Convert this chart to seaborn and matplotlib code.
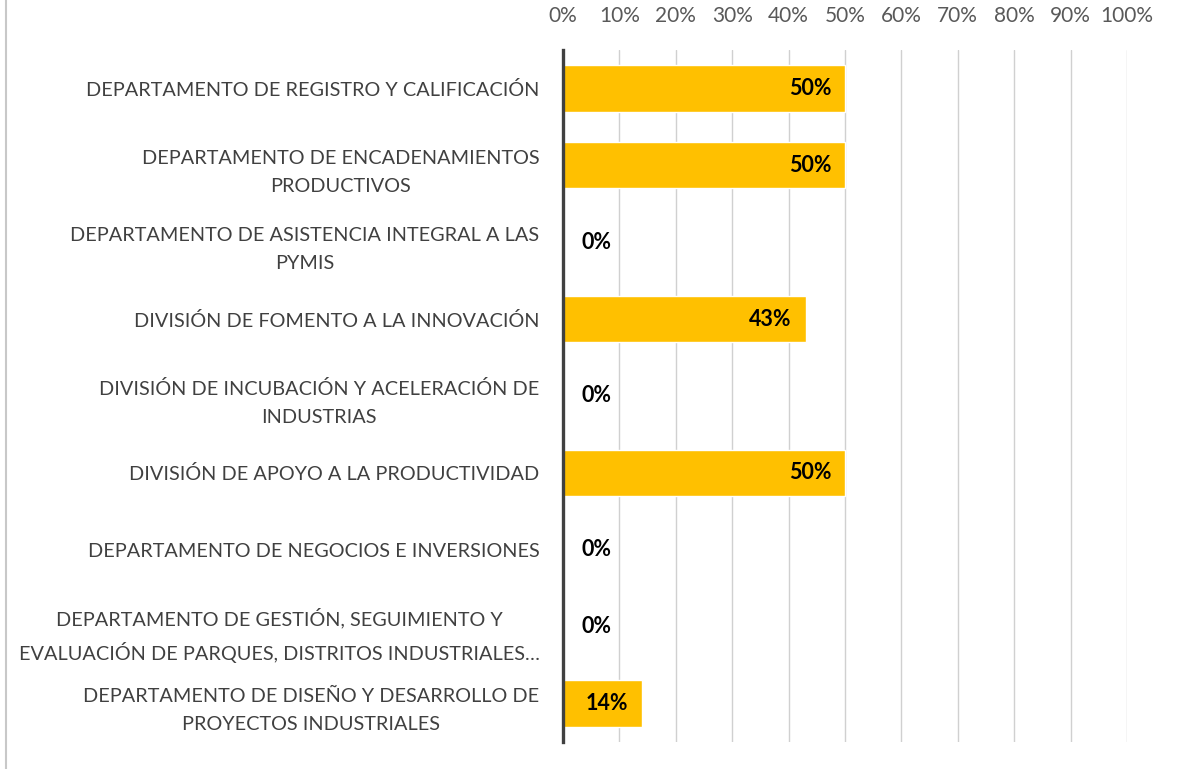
import matplotlib
matplotlib.use("Agg")
import matplotlib.pyplot as plt
import seaborn as sns
import pandas as pd
from matplotlib.lines import Line2D
from matplotlib.ticker import FixedLocator

categories = [
    "DEPARTAMENTO DE REGISTRO Y CALIFICACIÓN",
    "DEPARTAMENTO DE ENCADENAMIENTOS\nPRODUCTIVOS",
    "DEPARTAMENTO DE ASISTENCIA INTEGRAL A LAS\nPYMIS",
    "DIVISIÓN DE FOMENTO A LA INNOVACIÓN",
    "DIVISIÓN DE INCUBACIÓN Y ACELERACIÓN DE\nINDUSTRIAS",
    "DIVISIÓN DE APOYO A LA PRODUCTIVIDAD",
    "DEPARTAMENTO DE NEGOCIOS E INVERSIONES",
    "DEPARTAMENTO DE GESTIÓN, SEGUIMIENTO Y\nEVALUACIÓN DE PARQUES, DISTRITOS INDUSTRIALES…",
    "DEPARTAMENTO DE DISEÑO Y DESARROLLO DE\nPROYECTOS INDUSTRIALES",
]
values = [0.50, 0.50, 0.0, 0.43, 0.0, 0.50, 0.0, 0.0, 0.14]
tick_values = [0, 0.1, 0.2, 0.3, 0.4, 0.5, 0.6, 0.7, 0.8, 0.9, 1.0]
tick_labels = ["0%", "10%", "20%", "30%", "40%", "50%", "60%", "70%", "80%", "90%", "100%"]

sns.set_theme(style="white")
plt.rcParams["font.family"] = ["Lato", "DejaVu Sans"]

df = pd.DataFrame({"cat": categories, "val": values})

fig = plt.figure(figsize=(11.82, 7.69), dpi=100)
ax = fig.add_axes([563 / 1182, 1 - 742 / 769, (1127 - 563) / 1182, (742 - 50) / 769])

sns.barplot(data=df, y="cat", x="val", orient="h", color="#FFC000",
            saturation=1, width=0.6, ax=ax, zorder=3)

ax.set_xlim(0, 1.0)
ax.set_ylim(8.5, -0.5)
ax.xaxis.set_major_locator(FixedLocator(tick_values))
ax.set_xticklabels(tick_labels)
ax.xaxis.tick_top()
ax.tick_params(axis="x", length=0, pad=17, labelsize=15, labelcolor="#595959")
ax.tick_params(axis="y", length=0, pad=17, labelsize=14.3, labelcolor="#404040")
for lab in ax.get_yticklabels():
    lab.set_multialignment("center")
    lab.set_linespacing(1.8)
ax.set_xlabel("")
ax.set_ylabel("")
ax.grid(axis="x", color="#D0D0D0", linewidth=1.0, zorder=0)
ax.set_axisbelow(True)
for s in ["top", "right", "bottom"]:
    ax.spines[s].set_visible(False)
ax.spines["left"].set_color("#404040")
ax.spines["left"].set_linewidth(2.4)
ax.spines["left"].set_zorder(5)

for i, v in enumerate(values):
    txt = f"{round(v * 100):.0f}%"
    if v > 0:
        ax.annotate(txt, xy=(v, i), xytext=(-10, 0), textcoords="offset points",
                    ha="right", va="center", fontsize=15.5, fontweight="bold",
                    color="black", zorder=6)
    else:
        ax.annotate(txt, xy=(0, i), xytext=(13, 0), textcoords="offset points",
                    ha="left", va="center", fontsize=15.5, fontweight="bold",
                    color="black", zorder=6)

fig.add_artist(Line2D([6 / 1182, 6 / 1182], [0, 1], transform=fig.transFigure,
                      color="#C8C8C8", linewidth=1.5))

fig.savefig("out.png", dpi=100)
